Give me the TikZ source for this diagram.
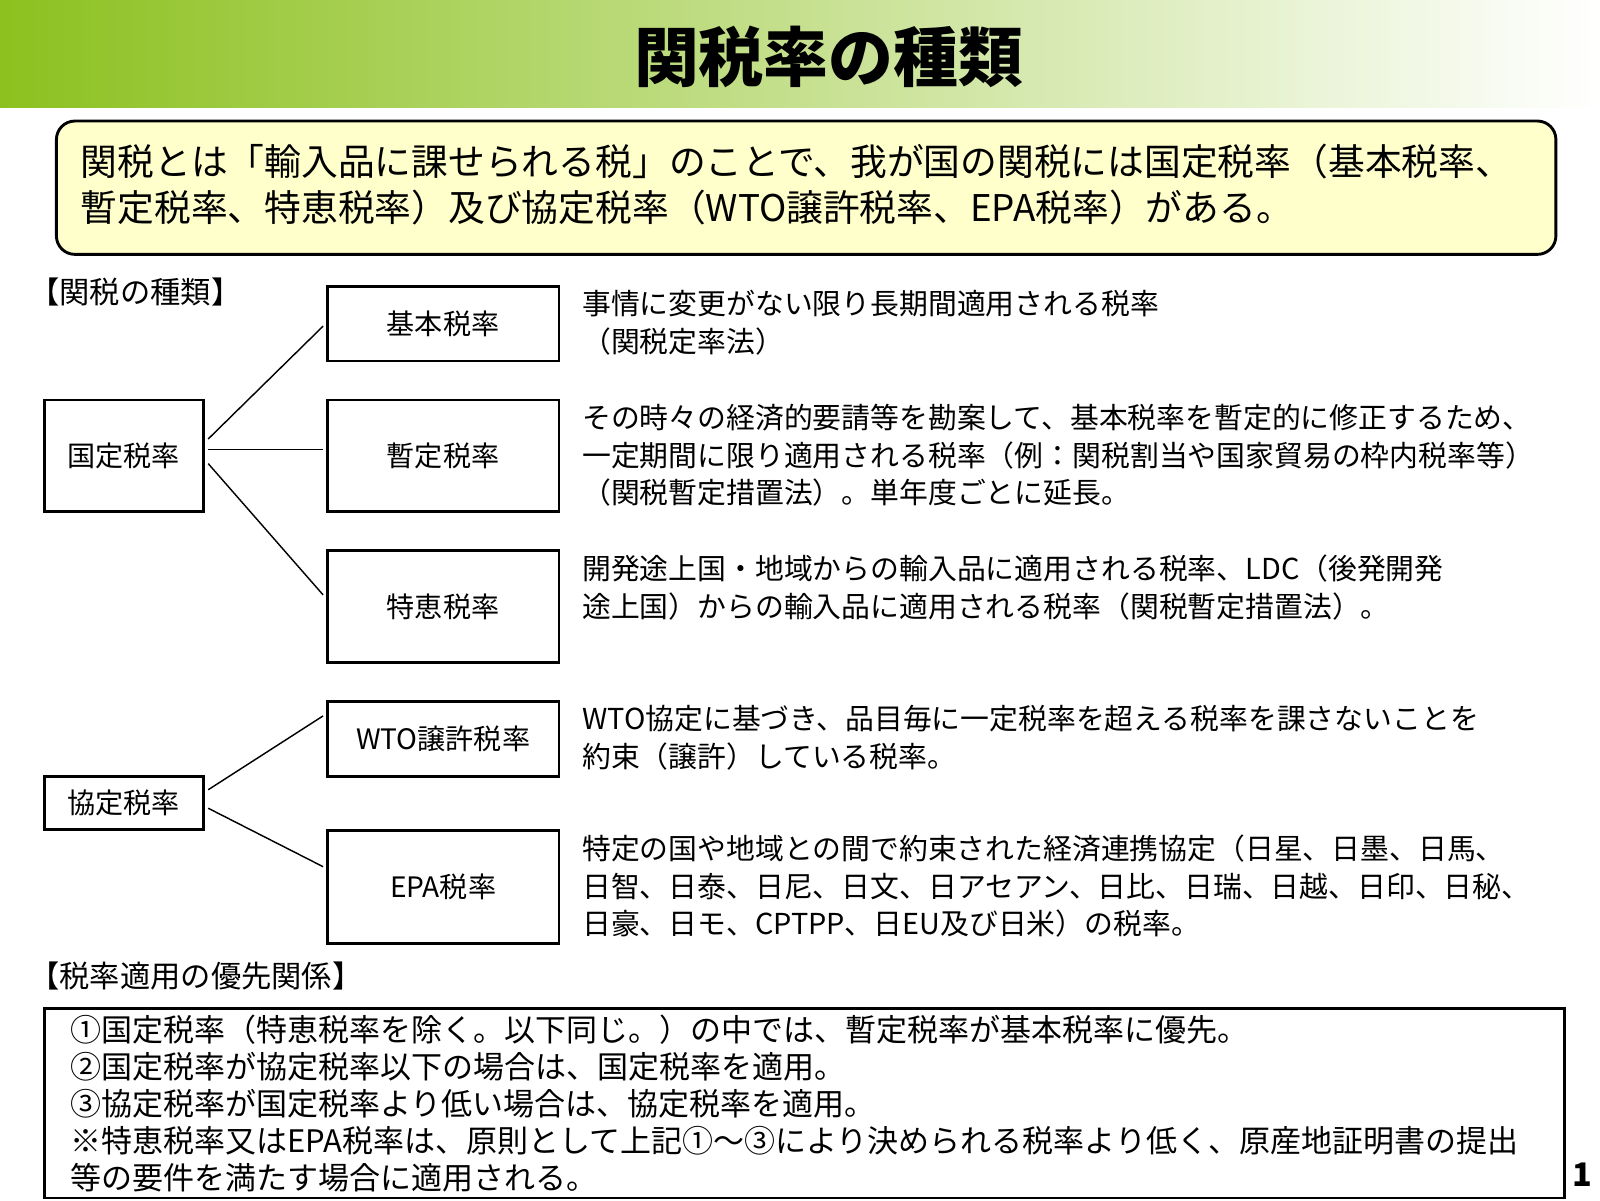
\documentclass[tikz,border=0pt]{standalone}
\usepackage{fontspec}
\setmainfont{Noto Sans CJK JP}
\usetikzlibrary{positioning}
\definecolor{bandgreen}{HTML}{8CC11F}
\definecolor{notebg}{HTML}{FFFFCC}
\begin{document}
\begin{tikzpicture}[x=0.1mm,y=-0.1mm,
 ratebox/.style = {draw, thick, rectangle, align=center, font=\fontsize{7.8}{9}\selectfont,
        inner sep=0pt, outer sep=0pt},
 desc/.style = {anchor=north west, align=left, inner sep=0pt,
        font=\fontsize{8}{10.5}\selectfont},
 head/.style = {anchor=west, inner sep=0pt, font=\fontsize{8.4}{10}\selectfont},
 branch/.style = {thin}
                    ]
\useasboundingbox (0,0) rectangle (1560,1170);
% the title band
\shade[left color=bandgreen, right color=white] (0,0) rectangle (1560,105);
\node (title) at (808,55) {\fontsize{18}{20}\selectfont\bfseries 関税率の種類};
% the note at the top
\draw[thick, fill=notebg, rounded corners=1.8mm] (55,118) rectangle (1517,248);
\node (note) [desc, font=\fontsize{10.2}{12.8}\selectfont] at (78,140)
 {関税とは「輸入品に課せられる税」のことで、我が国の関税には国定税率（基本税率、\\
 暫定税率、特恵税率）及び協定税率（WTO譲許税率、EPA税率）がある。};
\node (h1) [head] at (28,285) {【関税の種類】};
% the boxes on the left
\node (kokutei) [ratebox, minimum width=15.5mm, minimum height=10.9mm] at (120.5,444.5) {国定税率};
\node (kyotei)  [ratebox, minimum width=15.5mm, minimum height=5.2mm] at (120.5,783) {協定税率};
% the boxes in the middle
\node (kihon)  [ratebox, minimum width=22.6mm, minimum height=7.3mm]  at (432,315.5) {基本税率};
\node (zantei) [ratebox, minimum width=22.6mm, minimum height=10.9mm] at (432,444.5) {暫定税率};
\node (tokkei) [ratebox, minimum width=22.6mm, minimum height=10.9mm] at (432,591.5) {特恵税率};
\node (wto)    [ratebox, minimum width=22.6mm, minimum height=7.3mm]  at (432,720.5) {WTO譲許税率};
\node (epa)    [ratebox, minimum width=22.6mm, minimum height=11mm]   at (432,865) {EPA税率};
% the branches
\coordinate (k1) at (203,428);
\coordinate (k2) at (203,438);
\coordinate (k3) at (203,452);
\coordinate (t1) at (315,318);
\coordinate (t2) at (315,438);
\coordinate (t3) at (315,580);
\coordinate (k4) at (203,770);
\coordinate (k5) at (203,788);
\coordinate (t4) at (315,698);
\coordinate (t5) at (315,845);
\draw[branch] (k1) -- (t1);
\draw[branch] (k2) -- (t2);
\draw[branch] (k3) -- (t3);
\draw[branch] (k4) -- (t4);
\draw[branch] (k5) -- (t5);
% the descriptions
\node (d1) [desc] at (567,282) {事情に変更がない限り長期間適用される税率\\（関税定率法）};
\node (d2) [desc] at (567,393) {その時々の経済的要請等を勘案して、基本税率を暫定的に修正するため、\\
 一定期間に限り適用される税率（例：関税割当や国家貿易の枠内税率等）\\
 （関税暫定措置法）。単年度ごとに延長。};
\node (d3) [desc] at (567,540) {開発途上国・地域からの輸入品に適用される税率、LDC（後発開発\\
 途上国）からの輸入品に適用される税率（関税暫定措置法）。};
\node (d4) [desc] at (567,687) {WTO協定に基づき、品目毎に一定税率を超える税率を課さないことを\\
 約束（譲許）している税率。};
\node (d5) [desc] at (567,813) {特定の国や地域との間で約束された経済連携協定（日星、日墨、日馬、\\
 日智、日泰、日尼、日文、日アセアン、日比、日瑞、日越、日印、日秘、\\
 日豪、日モ、CPTPP、日EU及び日米）の税率。};
% the priority box
\node (h2) [head] at (28,952) {【税率適用の優先関係】};
\draw[thick] (43,983) rectangle (1525,1168);
\node (rules) [desc, font=\fontsize{8.6}{10.25}\selectfont] at (68,989)
 {①国定税率（特恵税率を除く。以下同じ。）の中では、暫定税率が基本税率に優先。\\
 ②国定税率が協定税率以下の場合は、国定税率を適用。\\
 ③協定税率が国定税率より低い場合は、協定税率を適用。\\
 ※特恵税率又はEPA税率は、原則として上記①～③により決められる税率より低く、原産地証明書の提出\\
 等の要件を満たす場合に適用される。};
\node (page) at (1543,1145) {\fontsize{9}{10}\selectfont\bfseries 1};
\end{tikzpicture}
\end{document}
